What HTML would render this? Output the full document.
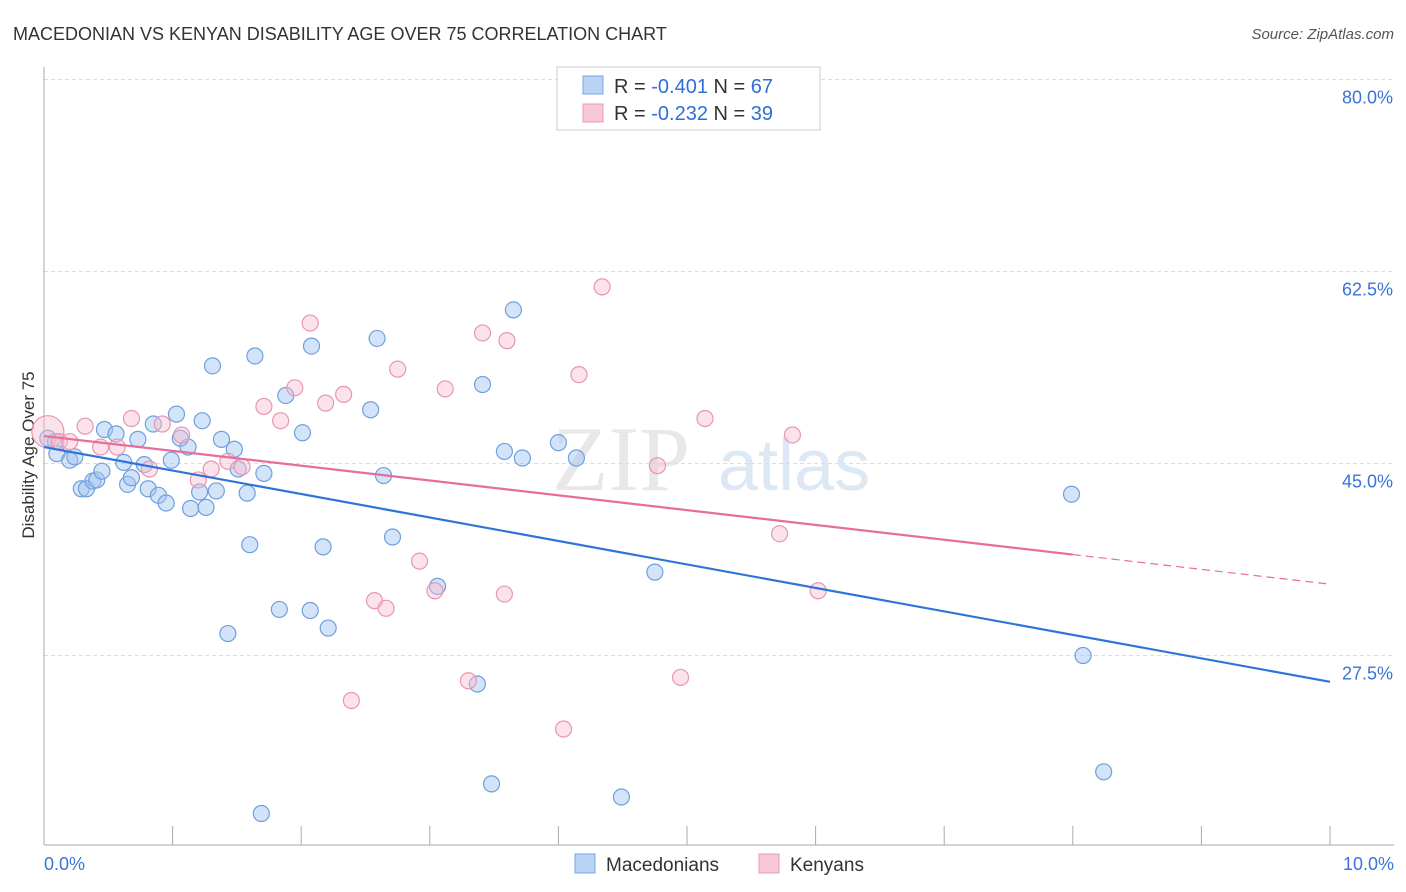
<!DOCTYPE html>
<html><head><meta charset="utf-8">
<style>
body{margin:0;background:#fff;font-family:"Liberation Sans",sans-serif;}
#wrap{position:relative;width:1406px;height:892px;overflow:hidden;}
</style></head>
<body>
<div id="wrap">
<svg id="svg" width="1406" height="892" xmlns="http://www.w3.org/2000/svg">
<text x="13" y="40" font-size="18" fill="#333">MACEDONIAN VS KENYAN DISABILITY AGE OVER 75 CORRELATION CHART</text>
<text x="1394" y="39" font-size="15" fill="#555" font-style="italic" text-anchor="end">Source: ZipAtlas.com</text>
<text x="34" y="455" font-size="17" fill="#333" text-anchor="middle" transform="rotate(-90 34 455)">Disability Age Over 75</text>
<g>
<text x="552" y="490" font-size="92" fill="#e8e8e8" font-family="Liberation Serif,serif">ZIP</text>
<text x="718" y="490" font-size="72" fill="#dde8f5">atlas</text>
</g>
<g id="grid"></g>
<g id="marks"></g>
<g>
<rect x="557" y="67" width="263" height="63" fill="#fff" stroke="#ccc"/>
<rect x="583" y="76" width="20" height="18" fill="#b9d3f5" stroke="#7aa6e0"/>
<rect x="583" y="104" width="20" height="18" fill="#f9c8d6" stroke="#ec9ab4"/>
<text x="614" y="93" font-size="20" fill="#333">R = <tspan fill="#2f6fd6">-0.401</tspan>   N = <tspan fill="#2f6fd6">67</tspan></text>
<text x="614" y="120" font-size="20" fill="#333">R = <tspan fill="#2f6fd6">-0.232</tspan>   N = <tspan fill="#2f6fd6">39</tspan></text>
</g>
<g>
<rect x="575" y="854" width="20" height="19" fill="#b9d3f5" stroke="#7aa6e0"/>
<text x="606" y="871" font-size="19" fill="#333">Macedonians</text>
<rect x="759" y="854" width="20" height="19" fill="#f9c8d6" stroke="#ec9ab4"/>
<text x="790" y="871" font-size="19" fill="#333">Kenyans</text>
</g>
</svg>
</div>
<script>
const yTicks=[80,62.5,45,27.5];
const yTickLabels=["80.0%","62.5%","45.0%","27.5%"];
const xTicks=[0,1,2,3,4,5,6,7,8,9,10];
const xEndLabels=["0.0%","10.0%"];
const macX=[.03,.09,.10,.20,.24,.29,.33,.38,.41,.45,.47,.56,.62,.65,.68,.73,.78,.81,.85,.89,.95,.99,1.03,1.06,1.12,1.14,1.21,1.23,1.26,1.31,1.34,1.38,1.43,1.48,1.51,1.58,1.60,1.64,1.71,1.83,1.88,2.01,2.07,2.08,2.17,2.21,2.54,2.59,2.64,2.71,3.06,3.37,3.41,3.48,3.58,3.65,3.72,4.00,4.14,4.49,4.75,1.69,7.99,8.08,8.24];
const macY=[47.3,47.0,45.9,45.3,45.6,42.7,42.7,43.4,43.5,44.3,48.1,47.7,45.1,43.1,43.7,47.2,44.9,42.7,48.6,42.1,41.4,45.3,49.5,47.3,46.5,40.9,42.4,48.9,41.0,53.9,42.5,47.2,29.5,46.3,44.5,42.3,37.6,54.8,44.1,31.7,51.2,47.8,31.6,55.7,37.4,30.0,49.9,56.4,43.9,38.3,33.8,24.9,52.2,15.8,46.1,59.0,45.5,46.9,45.5,14.6,35.1,13.1,42.2,27.5,16.9];
const kenX=[.03,.12,.20,.32,.44,.57,.68,.82,.92,1.07,1.20,1.30,1.43,1.54,1.71,1.84,1.95,2.07,2.19,2.33,2.57,2.66,2.75,2.92,3.04,3.12,3.30,3.41,3.58,3.60,4.04,4.16,4.34,2.39,4.77,4.95,5.14,5.72,5.82,6.02];
const kenY=[47.9,47.0,47.0,48.4,46.5,46.5,49.1,44.5,48.6,47.6,43.5,44.5,45.2,44.7,50.2,48.9,51.9,57.8,50.5,51.3,32.5,31.8,53.6,36.1,33.4,51.8,25.2,56.9,33.1,56.2,20.8,53.1,61.1,23.4,44.8,25.5,49.1,38.6,47.6,33.4];
const macTrend=[46.5,25.1]; // value at x=0 and x=10
const kenTrend=[47.5,34.0];
const kenSolidEnd=8;

const X0=44,X1=1330,Y80=79.5,PX=192/17.5;
const sx=v=>X0+(X1-X0)*v/10;
const sy=v=>Y80+(80-v)*PX;
const NS="http://www.w3.org/2000/svg";
const grid=document.getElementById('grid'),marks=document.getElementById('marks');
function mk(tag,attrs,parent){const e=document.createElementNS(NS,tag);for(const k in attrs)e.setAttribute(k,attrs[k]);parent.appendChild(e);return e;}
yTicks.forEach((t,i)=>{
  const l=mk('line',{x1:X0,x2:1394,y1:sy(t),y2:sy(t),stroke:'#ddd','stroke-dasharray':'4,3'},grid);
  
  
  const tx=mk('text',{x:1393,y:sy(t)+24,'font-size':18,fill:'#3a74d6','text-anchor':'end'},grid);
  tx.textContent=yTickLabels[i];
  
  
});
const ax=mk('line',{x1:X0,x2:X0,y1:67,y2:845,stroke:'#aaa'},grid);


const bx=mk('line',{x1:X0,x2:1394,y1:845,y2:845,stroke:'#aaa'},grid);


xTicks.forEach(t=>{
  const l=mk('line',{x1:sx(t),x2:sx(t),y1:826,y2:845,stroke:'#aaa'},grid);
  
  
});
[[0,'start'],[10,'end']].forEach((p,i)=>{
  const tx=mk('text',{x:sx(p[0])+(i?63:0),y:870,'font-size':18,fill:'#3a74d6','text-anchor':'start'},grid);
  if(i){tx.setAttribute('x',sx(p[0])+64);tx.setAttribute('text-anchor','end');}
  tx.textContent=xEndLabels[i];
  
  
});
macX.forEach((x,i)=>{
  const c=mk('circle',{cx:sx(x),cy:sy(macY[i]),r:8,fill:'rgba(160,195,240,0.45)',stroke:'#6f9fdf','stroke-width':1.2},marks);
  
  
});
kenX.forEach((x,i)=>{
  const c=mk('circle',{cx:sx(x),cy:sy(kenY[i]),r:i===0?16:8,fill:'rgba(248,190,208,0.45)',stroke:'#e996b1','stroke-width':1.2},marks);
  
  
});
const lerp=(t,x)=>t[0]+(t[1]-t[0])*x/10;
const mt=mk('line',{x1:sx(0),y1:sy(macTrend[0]),x2:sx(10),y2:sy(macTrend[1]),stroke:'#2e74d8','stroke-width':2.2},marks);


const kt=mk('line',{x1:sx(0),y1:sy(kenTrend[0]),x2:sx(kenSolidEnd),y2:sy(lerp(kenTrend,kenSolidEnd)),stroke:'#e86d97','stroke-width':2.2},marks);


const kd=mk('line',{x1:sx(kenSolidEnd),y1:sy(lerp(kenTrend,kenSolidEnd)),x2:sx(10),y2:sy(kenTrend[1]),stroke:'#e86d97','stroke-width':1.2,'stroke-dasharray':'8,5'},marks);


</script>
</body></html>
